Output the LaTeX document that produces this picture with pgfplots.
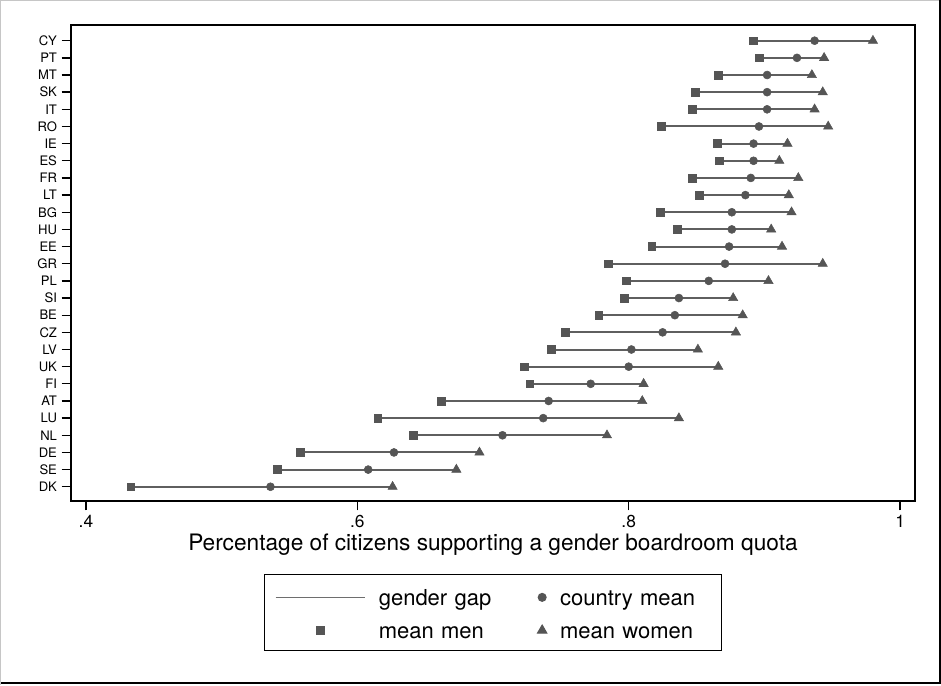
\documentclass[border=0pt]{standalone}
\usepackage{pgfplots}
\pgfplotsset{compat=1.18}
\usepackage{pgfplotstable}
\usepackage{fontspec}
\setmainfont{TeX Gyre Heros}
\definecolor{markc}{RGB}{85,85,85}
\definecolor{gapc}{RGB}{95,95,95}
\definecolor{lgapc}{RGB}{110,110,110}

\pgfplotsset{
  lgline/.style={legend image code/.code={\draw[##1] (0pt,-1.1pt) -- (66.75pt,-1.1pt);}},
  lgwide/.style={legend image code/.code={\draw[##1, mark repeat=2, mark phase=2] plot coordinates {(0pt,-1.1pt) (33.375pt,-1.1pt) (66.75pt,-1.1pt)};}},
  lgmark/.style={legend image code/.code={\draw[##1] plot coordinates {(0pt,-1.1pt)};}},
}

\pgfplotstableread{
y men mean women
1 0.433 0.536 0.626
2 0.541 0.608 0.673
3 0.558 0.627 0.690
4 0.641 0.707 0.784
5 0.615 0.737 0.837
6 0.662 0.741 0.810
7 0.727 0.772 0.811
8 0.723 0.800 0.866
9 0.743 0.802 0.851
10 0.753 0.825 0.879
11 0.778 0.834 0.884
12 0.797 0.837 0.877
13 0.798 0.859 0.903
14 0.785 0.871 0.943
15 0.817 0.874 0.913
16 0.836 0.876 0.905
17 0.823 0.876 0.920
18 0.852 0.886 0.918
19 0.847 0.890 0.925
20 0.867 0.892 0.911
21 0.865 0.892 0.917
22 0.824 0.896 0.947
23 0.847 0.902 0.937
24 0.849 0.902 0.943
25 0.866 0.902 0.935
26 0.896 0.924 0.944
27 0.892 0.937 0.980
}\data

\begin{document}
\begin{tikzpicture}
\useasboundingbox (0,0) rectangle (705.75pt,513.75pt);
\begin{axis}[
  at={(53.25pt,138pt)}, anchor=south west,
  scale only axis, width=633pt, height=357pt,
  xmin=0.389, xmax=1.011, ymin=0.17, ymax=27.915,
  axis line style={line width=1.1pt},
  xtick pos=bottom, ytick pos=left,
  tick align=outside,
  major tick length=7pt,
  every tick/.style={black, line width=1pt},
  xtick={0.4,0.6,0.8,1}, xticklabels={.4,.6,.8,1},
  ytick={1,...,27},
  yticklabels={DK,SE,DE,NL,LU,AT,FI,UK,LV,CZ,BE,SI,PL,GR,EE,HU,BG,LT,FR,ES,IE,RO,IT,SK,MT,PT,CY},
  /pgf/number format/assume math mode=true,
  xticklabel style={font=\fontsize{13}{15}\selectfont},
  yticklabel style={font=\fontsize{9.8}{11}\selectfont},
  xlabel={Percentage of citizens supporting a gender boardroom quota},
  xlabel style={font=\fontsize{17}{19}\selectfont, at={(axis description cs:0.5,-0.105)}, anchor=base},
  legend columns=2,
  legend cell align=left,
  legend style={at={(0.5,-0.1534)}, anchor=north, draw=black, line width=0.75pt,
    inner xsep=7.5pt, inner ysep=6pt, row sep=4.7pt,
    font=\fontsize{16.5}{19}\selectfont,
    nodes={inner sep=0pt, text height=17.25pt, text depth=2.8pt, text width=113.25pt, align=left},
    /tikz/every odd column/.append style={column sep=10pt},
    /tikz/every even column/.append style={column sep=5.8pt}},
]
\addplot[forget plot, draw=none, mark=none,
  error bars/.cd, x dir=plus, x explicit, error mark=none,
  error bar style={draw=gapc, line width=1.5pt, solid}]
  table[x=men, y=y, x error expr=\thisrow{women}-\thisrow{men}] {\data};
\addlegendimage{lgapc, line width=1.2pt, lgline}
\addlegendentry{gender gap}
\addplot[only marks, mark=*, mark size=3pt, color=markc, mark options={solid, fill=markc, draw=markc}, lgmark]
  table[x=mean, y=y] {\data};
\addlegendentry{country mean}
\addplot[only marks, mark=square*, mark size=2.9pt, color=markc, mark options={solid, fill=markc, draw=markc}, lgwide]
  table[x=men, y=y] {\data};
\addlegendentry{mean men}
\addplot[only marks, mark=triangle*, mark size=4pt, color=markc, mark options={solid, fill=markc, draw=markc}, lgmark]
  table[x=women, y=y] {\data};
\addlegendentry{mean women}
\end{axis}
\draw[gray!45, line width=0.75pt] (0.375pt,0pt) -- (0.375pt,513.375pt) -- (705.75pt,513.375pt);
\draw[black, line width=1pt] (0.75pt,1.5pt) -- (705pt,1.5pt) -- (705pt,513.75pt);
\end{tikzpicture}
\end{document}
